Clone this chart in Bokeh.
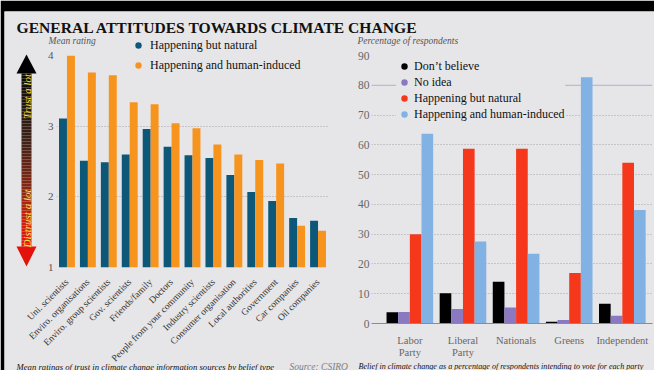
import math
from bokeh.plotting import figure
from bokeh.models import (ColumnDataSource, FactorRange, Range1d, FixedTicker, Legend, LegendItem,
                          Label, BoxAnnotation, PolyAnnotation, Span, GridBox)
from bokeh.transform import dodge
from bokeh.layouts import column, row
from bokeh.embed import file_html
from bokeh.resources import INLINE

# ---------------- data ----------------
title_text = "GENERAL ATTITUDES TOWARDS CLIMATE CHANGE"

sources = ["Uni. scientists", "Enviro. organisations", "Enviro. group scientists", "Gov. scientists",
           "Friends/family", "Doctors", "People from your community", "Industry scientists",
           "Consumer organisation", "Local authorities", "Government", "Car companies", "Oil companies"]
natural = [3.11, 2.51, 2.49, 2.60, 2.96, 2.71, 2.59, 2.55, 2.31, 2.07, 1.94, 1.70, 1.66]
human = [4.00, 3.76, 3.72, 3.34, 3.31, 3.04, 2.97, 2.74, 2.60, 2.52, 2.47, 1.59, 1.52]
rating_ticks = [1, 2, 3, 4]

parties = ["Labor\nParty", "Liberal\nParty", "Nationals", "Greens", "Independent"]
dont_believe = [3.8, 10.2, 14.0, 0.6, 6.6]
no_idea = [3.9, 4.9, 5.4, 1.2, 2.6]
but_natural = [30.0, 58.7, 58.7, 17.0, 54.0]
human_induced = [63.7, 27.5, 23.4, 82.7, 38.1]
pct_ticks = [0, 10, 20, 30, 40, 50, 60, 70, 80, 90]

# ---------------- style ----------------
PANEL = "#e6e6e8"
TEAL = "#0d5878"
ORANGE = "#f7941e"
C_BLACK = "#000000"
C_PURPLE = "#8a78c0"
C_RED = "#f5381c"
C_BLUE = "#82b1e3"
SERIF = "Liberation Serif"
GRID = "#a4a4a4"
NAN = float("nan")

# ---------------- base panel (frame, free texts, arrow, left legend) ----------------
base = figure(width=654, height=370, x_range=Range1d(0, 1), y_range=Range1d(0, 1),
              x_axis_type=None, y_axis_type=None, output_backend="svg", toolbar_location=None,
              min_border_left=4, min_border_top=11, min_border_right=0, min_border_bottom=0,
              background_fill_color=PANEL, border_fill_color="black", outline_line_color=None)

def blabel(x, y, text, size, color="#111111", style="normal", baseline="middle", **kw):
    base.add_layout(Label(x=x, y=y, x_units="screen", y_units="screen", text=text,
                          text_font=SERIF, text_font_style=style, text_font_size=size,
                          text_color=color, text_baseline=baseline, **kw))

blabel(12, 343, title_text, "15.6px", style="bold", baseline="alphabetic")
blabel(44, 330, "Mean rating", "9.5px", color="#555555", style="italic")
blabel(353, 330, "Percentage of respondents", "9.5px", color="#555555", style="italic")
blabel(12, 4, "Mean ratings of trust in climate change information sources by belief type", "8.7px",
       style="italic", baseline="alphabetic")
blabel(285, 4, "Source: CSIRO", "9.5px", color="#808080", style="italic", baseline="alphabetic")
blabel(354, 4, "Belief in climate change as a percentage of respondents intending to vote for each party",
       "8.1px", style="italic", baseline="alphabetic")

# gradient arrow (decoration)
stops = [(124, (232, 20, 10)), (150, (208, 31, 12)), (180, (138, 40, 18)), (230, (63, 34, 24)), (297, (10, 8, 6))]
def grad(y):
    for (y0, c0), (y1, c1) in zip(stops[:-1], stops[1:]):
        if y0 <= y <= y1:
            t = (y - y0) / (y1 - y0)
            return "#%02x%02x%02x" % tuple(int(round(a + (b - a) * t)) for a, b in zip(c0, c1))
    return "#%02x%02x%02x" % stops[-1][1]

for y0 in range(124, 297, 3):
    y1 = min(y0 + 3, 297)
    base.add_layout(BoxAnnotation(left=17, right=27, bottom=y0, top=y1,
                                  left_units="screen", right_units="screen",
                                  bottom_units="screen", top_units="screen",
                                  fill_color=grad((y0 + y1) / 2), fill_alpha=1, line_alpha=0))
base.add_layout(PolyAnnotation(xs=[12, 32, 22], ys=[297, 297, 316], xs_units="screen", ys_units="screen",
                               fill_color="#000000", fill_alpha=1, line_alpha=0))
base.add_layout(PolyAnnotation(xs=[12, 32, 22], ys=[124, 124, 104], xs_units="screen", ys_units="screen",
                               fill_color="#e3120b", fill_alpha=1, line_alpha=0))
blabel(22, 274, "Trust a lot", "11px", color="#f3e21c", style="italic", text_align="center", angle=math.pi / 2)
blabel(22, 152, "Distrust a lot", "11px", color="#f5e44a", style="italic", text_align="center", angle=math.pi / 2)

lr1 = base.scatter(x=[NAN], y=[NAN], marker="circle", size=10, fill_color=TEAL, line_color=None)
lr2 = base.scatter(x=[NAN], y=[NAN], marker="circle", size=10, fill_color=ORANGE, line_color=None)
base.add_layout(Legend(items=[LegendItem(label="Happening but natural", renderers=[lr1]),
                              LegendItem(label="Happening and human-induced", renderers=[lr2])],
                       location=(126, 295), padding=0, margin=0, spacing=0,
                       glyph_width=16, glyph_height=20, label_height=20, label_standoff=4,
                       border_line_color=None, background_fill_alpha=0,
                       label_text_font=SERIF, label_text_font_size="12px", label_text_color="#111111"))

# ---------------- left chart ----------------
left = figure(width=350, height=337, x_range=FactorRange(*sources, range_padding=0),
              y_range=Range1d(1, 4), output_backend="svg", toolbar_location=None,
              min_border_left=52, min_border_right=26, min_border_top=22, min_border_bottom=103,
              background_fill_alpha=0, border_fill_alpha=0, outline_line_color=None)

src = ColumnDataSource(dict(source=sources, natural=natural, human=human))
left.vbar(x=dodge("source", -0.19, range=left.x_range), top="natural", bottom=1, width=0.38,
          source=src, fill_color=TEAL, line_color=None)
left.vbar(x=dodge("source", 0.19, range=left.x_range), top="human", bottom=1, width=0.38,
          source=src, fill_color=ORANGE, line_color=None)

for ax in (left.xaxis[0], left.yaxis[0]):
    ax.axis_line_color = None
    ax.major_tick_line_color = None
    ax.minor_tick_line_color = None
    ax.major_tick_out = 0
    ax.major_tick_in = 0
    ax.minor_tick_out = 0
    ax.major_label_text_font = SERIF

left.yaxis.ticker = FixedTicker(ticks=rating_ticks)
left.yaxis.major_label_standoff = 3
left.yaxis.major_label_text_font_size = "11px"
left.yaxis.major_label_text_color = "#555555"

left.xaxis.major_label_orientation = math.pi / 4
left.xaxis.major_label_standoff = 13
left.xaxis.major_label_text_font_size = "9.5px"
left.xaxis.major_label_text_color = "#333333"

left.xgrid.grid_line_color = None
left.ygrid.grid_line_color = GRID
left.ygrid.grid_line_dash = "1 2"
left.ygrid.grid_line_width = 1

# ---------------- right chart ----------------
right = figure(width=300, height=337, x_range=Range1d(-0.722, 4.568), y_range=Range1d(0, 90),
               output_backend="svg", toolbar_location=None,
               min_border_left=16, min_border_right=2, min_border_top=22, min_border_bottom=47,
               background_fill_alpha=0, border_fill_alpha=0, outline_line_color=None)

pos = list(range(len(parties)))
src2 = ColumnDataSource(dict(pos=pos, dont=dont_believe, noidea=no_idea, nat=but_natural, hum=human_induced))
bw = 0.2195
for col, off, colr in [("dont", -1.5 * bw, C_BLACK), ("noidea", -0.5 * bw, C_PURPLE),
                       ("nat", 0.5 * bw, C_RED), ("hum", 1.5 * bw, C_BLUE)]:
    right.vbar(x=dodge("pos", off), top=col, bottom=0, width=bw, source=src2,
               fill_color=colr, line_color=None)

for ax in (right.xaxis[0], right.yaxis[0]):
    ax.major_tick_line_color = None
    ax.minor_tick_line_color = None
    ax.major_tick_out = 0
    ax.major_tick_in = 0
    ax.minor_tick_out = 0
    ax.major_label_text_font = SERIF
    ax.major_label_text_color = "#666666"

right.yaxis.ticker = FixedTicker(ticks=pct_ticks)
right.yaxis.axis_line_color = None
right.yaxis.major_label_standoff = 2
right.yaxis.major_label_text_font_size = "11.5px"

right.xaxis.ticker = FixedTicker(ticks=pos)
right.xaxis.major_label_overrides = {i: name for i, name in zip(pos, parties)}
right.xaxis.axis_line_color = "#8c8c8c"
right.xaxis.major_label_standoff = 11
right.xaxis.major_label_text_font_size = "10.5px"
right.xaxis.major_label_text_line_height = 1.1

right.xgrid.grid_line_color = None
right.ygrid.grid_line_color = GRID
right.ygrid.grid_line_dash = "1 2"
right.ygrid.grid_line_width = 1
right.add_layout(Span(location=80, dimension="width", line_color="#b4b4dc", line_width=1, level="underlay"))

rr = [right.scatter(x=[NAN], y=[NAN], marker="circle", size=10, fill_color=c, line_color=None)
      for c in [C_BLACK, C_PURPLE, C_RED, C_BLUE]]
right.add_layout(Legend(items=[LegendItem(label=lab, renderers=[r]) for lab, r in
                               zip(["Don\u2019t believe", "No idea", "Happening but natural",
                                    "Happening and human-induced"], rr)],
                        location=(25, 201), padding=0, margin=0, spacing=0,
                        glyph_width=16, glyph_height=16, label_height=16, label_standoff=2,
                        border_line_color=None, background_fill_color=PANEL, background_fill_alpha=1,
                        label_text_font=SERIF, label_text_font_size="12px", label_text_color="#111111"))

charts = row(column(left), column(right), margin=(33, 0, 0, 4), spacing=0)
root = GridBox(children=[(base, 0, 0), (charts, 0, 0)])

open("out.html", "w").write(file_html(root, INLINE))
